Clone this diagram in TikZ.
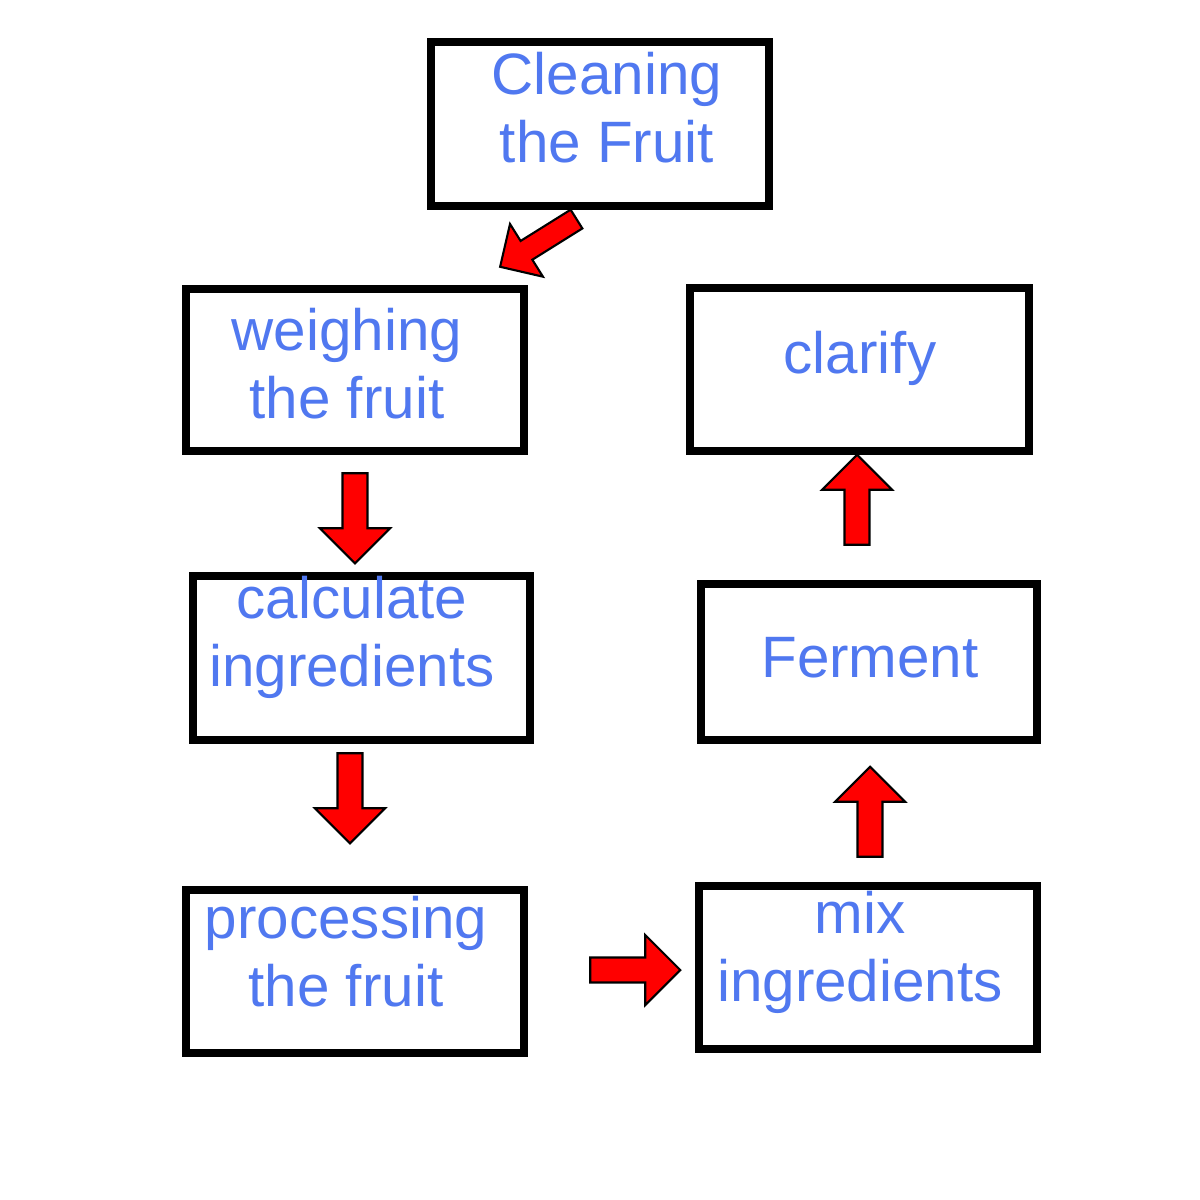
\documentclass[tikz,border=0pt]{standalone}
\usepackage{fontspec}
\setmainfont{Liberation Sans}
\usetikzlibrary{shapes.arrows}
\definecolor{txt}{RGB}{80,120,240}
\begin{document}
\begin{tikzpicture}[x=0.01cm,y=-0.01cm,
  box/.style={draw=black,line width=2pt,fill=white},
  lab/.style={text=txt,font=\fontsize{16.6}{19.3}\selectfont,align=center,inner sep=0},
  blk/.style={single arrow,draw=black,fill=red,line width=0.6pt,minimum width=0.7cm,
     single arrow head extend=0.2cm,minimum height=0.9cm,inner sep=0.1cm}]
\useasboundingbox (0,0) rectangle (1200,1200);
\fill[white] (0,0) rectangle (1200,1200);
\draw[box] (431,42) rectangle (769,206) node[midway] (b1) {};
\draw[box] (186,289) rectangle (524,451) node[midway] (b2) {};
\draw[box] (193,576) rectangle (530,740) node[midway] (b3) {};
\draw[box] (186,890) rectangle (524,1053) node[midway] (b4) {};
\draw[box] (699,886) rectangle (1037,1049) node[midway] (b5) {};
\draw[box] (701,584) rectangle (1037,740) node[midway] (b6) {};
\draw[box] (690,288) rectangle (1029,451) node[midway] (b7) {};
\node[lab] (t1) at (607,108) {Cleaning\\the Fruit};
\node[lab] (t2) at (347,364) {weighing\\the fruit};
\node[lab] (t3) at (352,637) {calculate\\ingredients};
\node[lab] (t4) at (346,952) {processing\\the fruit};
\node[lab] (t5) at (860,952) {mix\\ingredients};
\node[lab] (t6) at (870,658) {Ferment};
\node[lab] (t7) at (860,358) {clarify};
\node[blk,minimum width=0.6cm,rotate=212] (a1) at (543,240) {};
\node[blk,rotate=-90] (a2) at (355,512) {};
\node[blk,rotate=-90] (a3) at (350,792) {};
\node[blk,rotate=0] (a4) at (629,970) {};
\node[blk,rotate=90] (a5) at (870,818) {};
\node[blk,rotate=90] (a6) at (857,506) {};
\end{tikzpicture}
\end{document}
